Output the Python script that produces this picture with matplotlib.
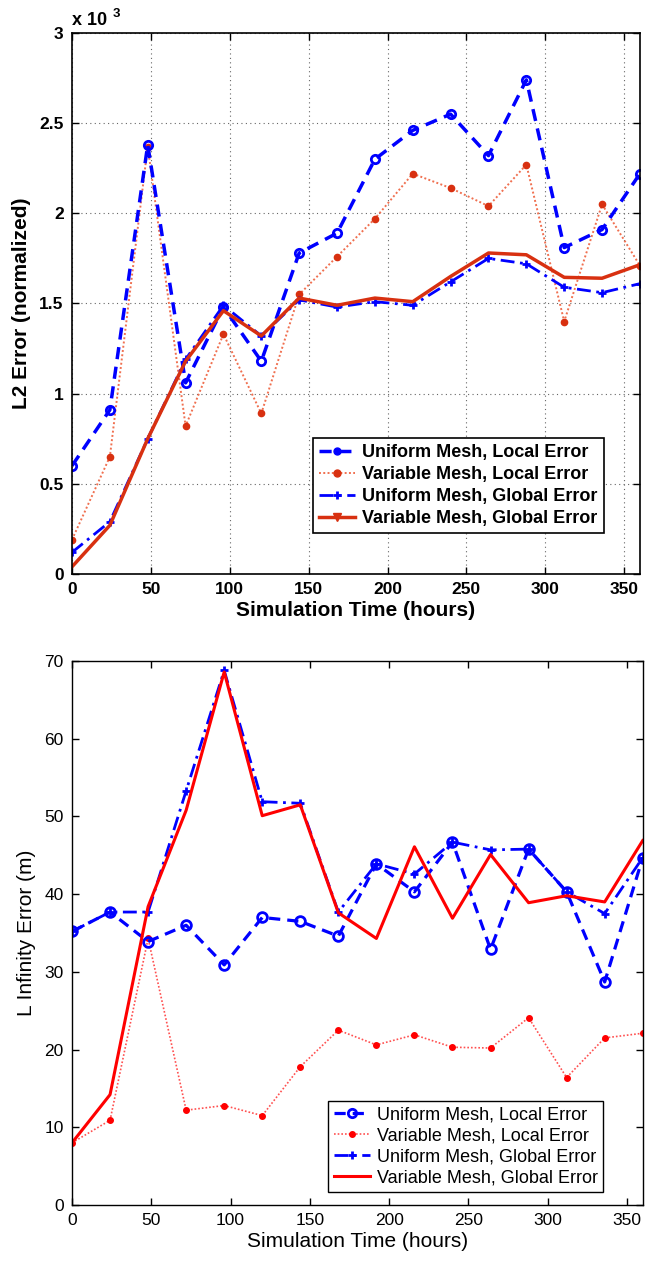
import matplotlib
matplotlib.use("Agg")
import matplotlib.pyplot as plt
from matplotlib.lines import Line2D

plt.rcParams['font.family'] = ['Liberation Sans', 'DejaVu Sans']

hours = [0, 24, 48, 72, 96, 120, 144, 168, 192, 216, 240, 264, 288, 312, 336, 360]

# Top panel: L2 error (x 1e-3)
l2_uniform_local = [0.60, 0.91, 2.38, 1.06, 1.48, 1.18, 1.78, 1.89, 2.30, 2.46, 2.55, 2.32, 2.74, 1.81, 1.91, 2.22]
l2_variable_local = [0.19, 0.65, 2.37, 0.82, 1.33, 0.89, 1.55, 1.76, 1.97, 2.22, 2.14, 2.04, 2.27, 1.40, 2.05, 1.71]
l2_uniform_global = [0.12, 0.29, 0.75, 1.19, 1.49, 1.32, 1.52, 1.48, 1.51, 1.49, 1.62, 1.75, 1.72, 1.59, 1.56, 1.61]
l2_variable_global = [0.04, 0.27, 0.75, 1.18, 1.46, 1.32, 1.53, 1.49, 1.53, 1.51, 1.65, 1.78, 1.77, 1.645, 1.64, 1.715]

# Bottom panel: L infinity error (m)
linf_uniform_local = [35.2, 37.7, 33.9, 36.0, 30.9, 37.0, 36.5, 34.6, 43.9, 40.3, 46.7, 32.9, 45.8, 40.3, 28.7, 44.7]
linf_variable_local = [8.0, 10.9, 34.3, 12.2, 12.8, 11.5, 17.8, 22.5, 20.6, 21.9, 20.3, 20.2, 24.1, 16.4, 21.5, 22.1]
linf_uniform_global = [35.2, 37.7, 37.7, 53.3, 68.8, 51.9, 51.7, 37.7, 43.9, 42.6, 46.7, 45.7, 45.8, 40.3, 37.5, 44.7]
linf_variable_global = [8.0, 14.2, 38.4, 50.8, 68.6, 50.1, 51.5, 37.6, 34.3, 46.1, 36.9, 45.1, 38.9, 39.8, 39.0, 46.9]

series_labels = ["Uniform Mesh, Local Error", "Variable Mesh, Local Error",
                 "Uniform Mesh, Global Error", "Variable Mesh, Global Error"]

x_ticks = [0, 50, 100, 150, 200, 250, 300, 350]
top_y_ticks = [0, 0.5, 1, 1.5, 2, 2.5, 3]
top_y_ticklabels = ["0", "0.5", "1", "1.5", "2", "2.5", "3"]
bottom_y_ticks = [0, 10, 20, 30, 40, 50, 60, 70]

BLUE = (0, 0, 1)
ORANGE_RED = "#d83010"
RED = (1, 0, 0)

fig = plt.figure(figsize=(6.51, 12.64), dpi=100)

# ---------- top panel ----------
ax1 = fig.add_axes([0.1106, 0.5459, 0.983 - 0.1106, 0.9739 - 0.5459])
ax1.plot(hours, l2_variable_local, linestyle=(0, (1, 1.2)), color="#f07050", lw=1.4,
         marker='o', ms=4.5, mfc=ORANGE_RED, mec=ORANGE_RED)
ax1.plot(hours, l2_uniform_local, linestyle=(0, (3.5, 2.2)), color=BLUE, lw=2.5,
         marker='o', ms=6, mfc='none', mec=BLUE, mew=2)
ax1.plot(hours, l2_uniform_global, linestyle=(0, (5, 2, 1, 2)), color=BLUE, lw=2.0,
         marker='+', ms=6, mew=2)
ax1.plot(hours, l2_variable_global, linestyle='-', color=ORANGE_RED, lw=2.5)

ax1.set_xlim(0, 360)
ax1.set_ylim(0, 3)
ax1.set_xticks(x_ticks)
ax1.set_yticks(top_y_ticks)
ax1.set_yticklabels(top_y_ticklabels)
ax1.grid(True, linestyle=(0, (1, 3)), color='#666666', lw=0.8)
ax1.tick_params(direction='in', top=True, right=True, length=5, width=1,
                labelsize=12.5, pad=6)
for lab in ax1.get_xticklabels() + ax1.get_yticklabels():
    lab.set_fontweight('bold')
for s in ax1.spines.values():
    s.set_linewidth(1.2)
ax1.set_xlabel("Simulation Time (hours)", fontsize=15, fontweight='bold', labelpad=3)
ax1.set_ylabel("L2 Error (normalized)", fontsize=15, fontweight='bold', labelpad=6)
ax1.text(0.0, 1.008, r"x 10", transform=ax1.transAxes, fontsize=13,
         fontweight='bold', ha='left', va='bottom')
ax1.text(0.072, 1.024, "3", transform=ax1.transAxes, fontsize=9.5,
         fontweight='bold', ha='left', va='bottom')

h1 = [
    Line2D([], [], linestyle=(0, (3.5, 2.2)), color=BLUE, lw=2.5, marker='o', ms=5,
           mfc=BLUE, mec=BLUE),
    Line2D([], [], linestyle=(0, (1, 1.2)), color="#f07050", lw=1.4, marker='o', ms=5,
           mfc=ORANGE_RED, mec=ORANGE_RED),
    Line2D([], [], linestyle=(0, (5, 2, 1, 2)), color=BLUE, lw=2.0, marker='+', ms=6, mew=2),
    Line2D([], [], linestyle='-', color=ORANGE_RED, lw=2.5, marker='v', ms=6,
           mfc=ORANGE_RED, mec=ORANGE_RED),
]
leg1 = ax1.legend(h1, series_labels, loc='lower left', bbox_to_anchor=(0.424, 0.075),
                  frameon=True, fancybox=False, edgecolor='black', framealpha=1,
                  prop={'weight': 'bold', 'size': 13}, handlelength=2.0,
                  handletextpad=0.4, borderpad=0.35, labelspacing=0.28,
                  borderaxespad=0)
leg1.get_frame().set_linewidth(1.2)

# ---------- bottom panel ----------
ax2 = fig.add_axes([0.1106, 0.0467, 0.9873 - 0.1106, 0.477 - 0.0467])
ax2.plot(hours, linf_variable_local, linestyle=(0, (1, 1.2)), color="#ff5050", lw=1.2,
         marker='o', ms=4, mfc=RED, mec=RED)
ax2.plot(hours, linf_uniform_local, linestyle=(0, (3.5, 2.2)), color=BLUE, lw=2.3,
         marker='o', ms=7, mfc='none', mec=BLUE, mew=2)
ax2.plot(hours, linf_uniform_global, linestyle=(0, (5, 2, 1, 2)), color=BLUE, lw=2.0,
         marker='+', ms=6, mew=2)
ax2.plot(hours, linf_variable_global, linestyle='-', color=RED, lw=2.2)

ax2.set_xlim(0, 360)
ax2.set_ylim(0, 70)
ax2.set_xticks(x_ticks)
ax2.set_yticks(bottom_y_ticks)
ax2.tick_params(direction='in', top=True, right=True, length=5, width=1,
                labelsize=12.5, pad=6)
for s in ax2.spines.values():
    s.set_linewidth(1.0)
ax2.set_xlabel("Simulation Time (hours)", fontsize=15, labelpad=3)
ax2.set_ylabel("L Infinity Error (m)", fontsize=15, labelpad=6)

h2 = [
    Line2D([], [], linestyle=(0, (3.5, 2.2)), color=BLUE, lw=2.3, marker='o', ms=6,
           mfc='none', mec=BLUE, mew=2),
    Line2D([], [], linestyle=(0, (1, 1.2)), color="#ff5050", lw=1.2, marker='o', ms=4,
           mfc=RED, mec=RED),
    Line2D([], [], linestyle=(0, (5, 2, 1, 2)), color=BLUE, lw=2.0, marker='+', ms=6, mew=2),
    Line2D([], [], linestyle='-', color=RED, lw=2.2),
]
leg2 = ax2.legend(h2, series_labels, loc='lower left', bbox_to_anchor=(0.449, 0.024),
                  frameon=True, fancybox=False, edgecolor='black', framealpha=1,
                  prop={'size': 13}, handlelength=2.0, handletextpad=0.4,
                  borderpad=0.3, labelspacing=0.22, borderaxespad=0)
leg2.get_frame().set_linewidth(1.0)

fig.savefig("out.png", dpi=100)
